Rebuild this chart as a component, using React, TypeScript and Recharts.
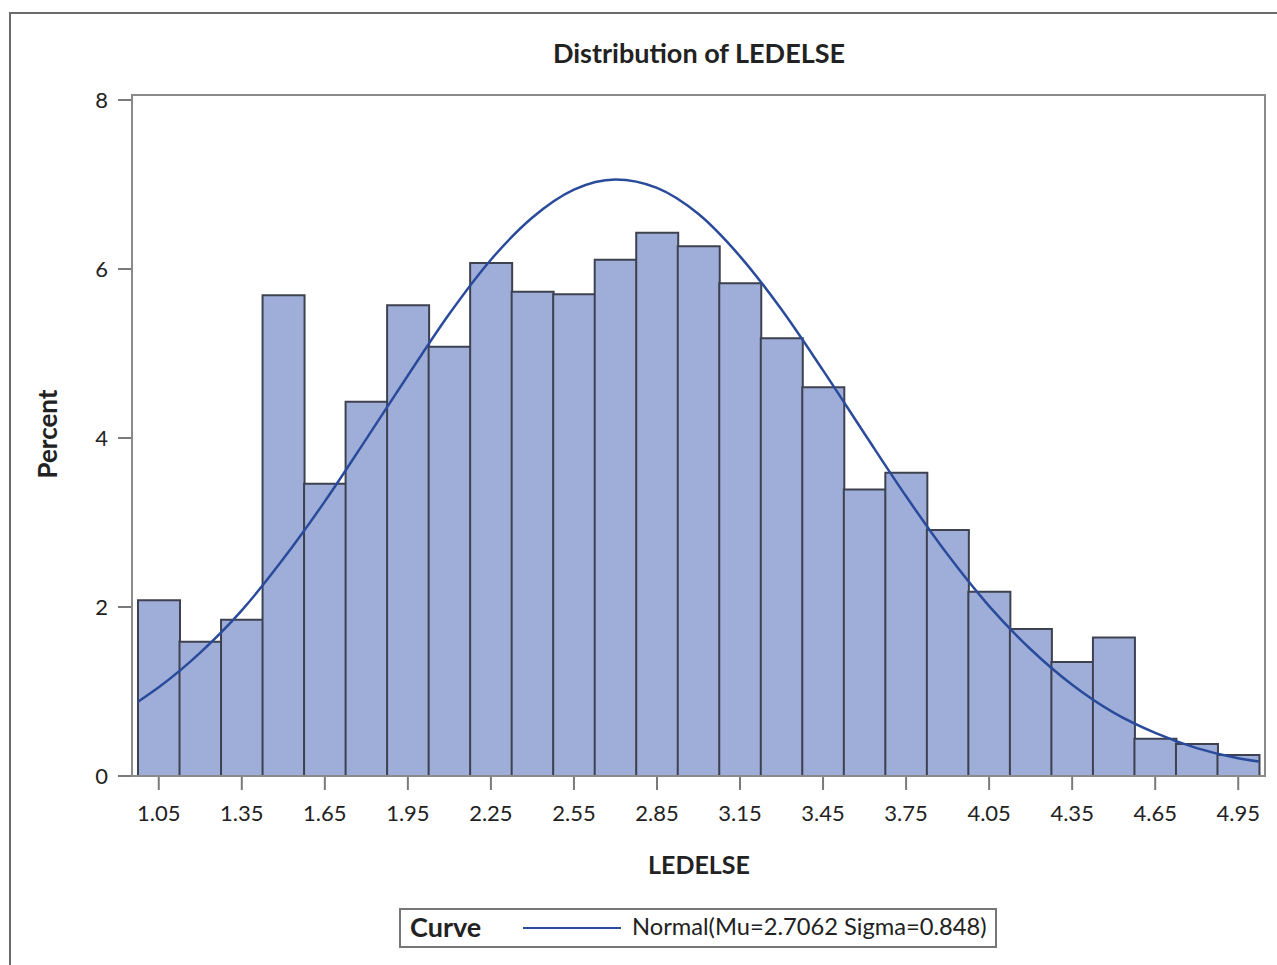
import React from 'react';
import { ComposedChart, Bar, Line, XAxis, YAxis } from 'recharts';

// histogram bins (midpoints) and percent per bin
const binMids = [
  1.05, 1.2, 1.35, 1.5, 1.65, 1.8, 1.95, 2.1, 2.25, 2.4, 2.55, 2.7, 2.85, 3.0,
  3.15, 3.3, 3.45, 3.6, 3.75, 3.9, 4.05, 4.2, 4.35, 4.5, 4.65, 4.8, 4.95,
];
const binPct = [
  2.08, 1.59, 1.85, 5.69, 3.46, 4.43, 5.57, 5.08, 6.07, 5.73, 5.70, 6.11, 6.43, 6.27,
  5.83, 5.18, 4.60, 3.39, 3.59, 2.91, 2.18, 1.74, 1.35, 1.64, 0.44, 0.38, 0.25,
];

// normal curve
const curveX = [
  0.975, 1.05, 1.2, 1.35, 1.5, 1.65, 1.8, 1.95, 2.1, 2.25, 2.4, 2.55, 2.7, 2.85, 3.0,
  3.15, 3.3, 3.45, 3.6, 3.75, 3.9, 4.05, 4.2, 4.35, 4.5, 4.65, 4.8, 4.95, 5.025,
];
const curvePct = [
  0.88, 1.05, 1.46, 1.96, 2.57, 3.25, 3.99, 4.74, 5.47, 6.11, 6.61, 6.94, 7.06, 6.96, 6.65,
  6.15, 5.52, 4.80, 4.05, 3.31, 2.62, 2.01, 1.50, 1.08, 0.75, 0.51, 0.33, 0.21, 0.17,
];

const yTicks = [0, 2, 4, 6, 8];

const barData = binMids.map((m, i) => ({ mid: m.toFixed(2), pct: binPct[i] }));
const curveData = curveX.map((x, i) => ({ x, pct: curvePct[i] }));

const FONT = 'Lato, "Open Sans", sans-serif';
const TXT = '#222';
const GRID = '#7a7a7a';
const BAR_FILL = '#9eaed9';
const BAR_LINE = '#3e4150';
const CURVE = '#2a4b9b';

export default function App() {
  return (
    <div style={{ position: 'absolute', left: 0, top: 0, width: 1277, height: 965, overflow: 'hidden', background: '#fff', fontFamily: FONT }}>
      {/* outer frame */}
      <div style={{ position: 'absolute', left: 9, top: 12, width: 1400, height: 1100, border: '2px solid #6b6b6b' }} />

      <div style={{ position: 'absolute', left: 0, top: 0 }}>
        <ComposedChart width={1277} height={965} data={barData}
          margin={{ top: 95, right: 12, bottom: 129, left: 0 }}
          barCategoryGap={0} barGap={0}>
          <XAxis dataKey="mid" interval={1} height={60}
            padding={{ left: 6, right: 6 }}
            axisLine={false}
            tickSize={14} tickMargin={15}
            tickLine={{ stroke: GRID, strokeWidth: 2 }}
            tick={{ fill: TXT, fontSize: 22, fontFamily: FONT }} />
          <XAxis xAxisId="curve" type="number" dataKey="x" hide
            domain={[0.975, 5.025]} allowDataOverflow
            padding={{ left: 6, right: 6 }} />
          <YAxis width={132} domain={[0, 8]} ticks={yTicks} interval={0}
            padding={{ top: 5, bottom: 0 }}
            axisLine={false}
            tickSize={14} tickMargin={10}
            tickLine={{ stroke: GRID, strokeWidth: 2 }}
            tick={{ fill: TXT, fontSize: 22, fontFamily: FONT }} />
          <Bar dataKey="pct" fill={BAR_FILL} stroke={BAR_LINE} strokeWidth={2}
            isAnimationActive={false} />
          <Line xAxisId="curve" data={curveData} dataKey="pct" type="monotone"
            stroke={CURVE} strokeWidth={2.5} dot={false} activeDot={false}
            isAnimationActive={false} />
        </ComposedChart>
      </div>

      {/* plot frame */}
      <div style={{ position: 'absolute', left: 131, top: 94, width: 1135, height: 683, boxSizing: 'border-box', border: '2px solid #8a8a8a', pointerEvents: 'none' }} />

      {/* title */}
      <div style={{ position: 'absolute', left: 0, width: 1398, top: 39, fontSize: 27, lineHeight: '27px', fontWeight: 700, color: TXT, textAlign: 'center' }}>
        Distribution of LEDELSE
      </div>

      {/* x label */}
      <div style={{ position: 'absolute', left: 0, width: 1398, top: 852, fontSize: 25, lineHeight: '25px', fontWeight: 700, color: TXT, textAlign: 'center' }}>
        LEDELSE
      </div>

      {/* y label */}
      <div style={{ position: 'absolute', left: 47 - 100, top: 434 - 13, width: 200, fontSize: 26, lineHeight: '26px', fontWeight: 700, color: TXT, textAlign: 'center', transform: 'rotate(-90deg)' }}>
        Percent
      </div>

      {/* legend */}
      <div style={{ position: 'absolute', left: 399, top: 908, width: 598, height: 40, boxSizing: 'border-box', border: '2px solid #777' }}>
        <span style={{ position: 'absolute', left: 9, top: 3, fontSize: 27, lineHeight: '27px', fontWeight: 700, color: TXT }}>Curve</span>
        <span style={{ position: 'absolute', left: 122, top: 17, width: 98, height: 2, background: CURVE }} />
        <span style={{ position: 'absolute', left: 231, top: 3, fontSize: 23.7, lineHeight: '26px', color: TXT, whiteSpace: 'nowrap' }}>
          Normal(Mu=2.7062 Sigma=0.848)
        </span>
      </div>
    </div>
  );
}
